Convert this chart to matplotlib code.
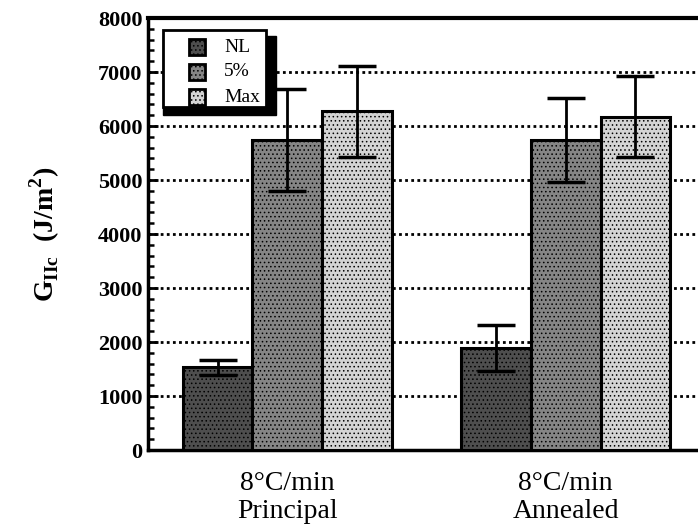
import numpy as np
import matplotlib
matplotlib.use('Agg')
import matplotlib.pyplot as plt
from matplotlib.ticker import MultipleLocator
from matplotlib.patches import Rectangle

plt.rcParams['font.family'] = 'Liberation Serif'
plt.rcParams['mathtext.fontset'] = 'custom'
plt.rcParams['mathtext.rm'] = 'Liberation Serif'
plt.rcParams['mathtext.bf'] = 'Liberation Serif:bold'
plt.rcParams['hatch.linewidth'] = 0.6

# data
groups = ['8°C/min\nPrincipal', '8°C/min\nAnnealed']
series = ['NL', '5%', 'Max']
means = {'NL': [1530, 1890], '5%': [5740, 5740], 'Max': [6270, 6170]}
errs = {'NL': [140, 430], '5%': [950, 770], 'Max': [850, 750]}
colors = {'NL': '#4e4e4e', '5%': '#858585', 'Max': '#d4d4d4'}
yticks = [0, 1000, 2000, 3000, 4000, 5000, 6000, 7000, 8000]

fig = plt.figure(figsize=(6.98, 5.31), dpi=100)
ax = fig.add_axes([148/698, 81/531, 557/698, 432/531])

x = np.arange(len(groups))
w = 0.25
for i, s in enumerate(series):
    ax.bar(x + (i - 1) * w, means[s], w, color=colors[s], edgecolor='black',
           linewidth=2.2, hatch='....', label=s, zorder=3)
    ax.errorbar(x + (i - 1) * w, means[s], yerr=errs[s], fmt='none',
                ecolor='black', elinewidth=2, capsize=14, capthick=2.5, zorder=4)

ax.set_xlim(-0.5, 1.5)
ax.set_ylim(0, 8000)
ax.set_yticks(yticks)
ax.set_yticklabels([str(t) for t in yticks], fontsize=16, fontweight='bold')
ax.yaxis.set_minor_locator(MultipleLocator(200))
ax.tick_params(axis='y', which='major', direction='in', length=7, width=2, pad=4)
ax.tick_params(axis='y', which='minor', direction='in', length=4, width=1.8)
ax.set_xticks(x)
ax.set_xticklabels(groups, fontsize=20, linespacing=1.15)
ax.tick_params(axis='x', length=0, pad=15)

ax.grid(axis='y', linestyle=(0, (1, 1.2)), color='black', linewidth=2, zorder=0)
for sp in ['top', 'right']:
    ax.spines[sp].set_visible(False)
ax.spines['left'].set_linewidth(2.5)
ax.spines['bottom'].set_linewidth(2.5)

# top frame line
ax.axhline(8000, color='black', linewidth=3, clip_on=False, zorder=5)

ax.set_ylabel(r'G$_{\mathbf{IIc}}$  (J/m$^{\mathbf{2}}$)', fontsize=20,
              fontweight='bold', labelpad=26)

# legend box with heavy drop shadow, drawn by hand
bx0, by0, bw, bh = 163, 424, 103, 77   # pixels from bottom-left of figure
tr = fig.transFigure
def fx(px):
    return px / 698
def fy(py):
    return py / 531
fig.patches.append(Rectangle((fx(bx0), fy(by0 - 8)), fx(bw + 10), fy(bh + 2),
                             transform=tr, facecolor='black', edgecolor='black',
                             zorder=10))
fig.patches.append(Rectangle((fx(bx0), fy(by0)), fx(bw), fy(bh), transform=tr,
                             facecolor='white', edgecolor='black', linewidth=2,
                             zorder=11))
for i, s in enumerate(series):
    cy = 484 - i * 25
    fig.patches.append(Rectangle((fx(189), fy(cy - 8)), fx(16), fy(16),
                                 transform=tr, facecolor=colors[s],
                                 edgecolor='black', linewidth=2, hatch='....',
                                 zorder=12))
    fig.text(fx(224), fy(cy), s, fontsize=14, va='center', ha='left', zorder=13)

fig.savefig('out.png', dpi=100)
